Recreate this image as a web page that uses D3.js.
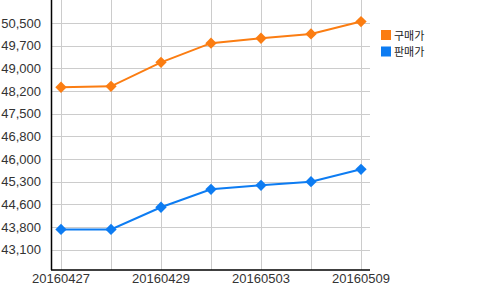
<!DOCTYPE html>
<html>
<head>
<meta charset="utf-8">
<script src="https://cdn.jsdelivr.net/npm/d3@7"></script>
<style>
  body { margin: 0; background: #fff; }
  text { font-family: "Liberation Sans", Arial, sans-serif; }
</style>
</head>
<body>
<div id="graph"></div>
<script>
var dates = ["20160427", "20160428", "20160429", "20160502", "20160503", "20160504", "20160509"];
var buyPrice  = [48420, 48450, 49230, 49850, 50010, 50150, 50550];
var sellPrice = [43810, 43810, 44530, 45110, 45240, 45360, 45760];
var seriesNames = ["구매가", "판매가"];
var xTickLabels = ["20160427", "20160429", "20160503", "20160509"];
var yTickValues = [43150, 43885, 44620, 45355, 46090, 46825, 47560, 48295, 49030, 49765, 50500];
var yTickLabels = ["43,100", "43,800", "44,600", "45,300", "46,000", "46,800", "47,500", "48,200", "49,000", "49,700", "50,500"];

var colors = ["#fb7d12", "#0d7cf2"];
var margin = {top: 0, right: 130, bottom: 20, left: 51};
var width = 500 - margin.left - margin.right,
    height = 290 - margin.top - margin.bottom;

var svg = d3.select("#graph").append("svg")
    .attr("width", 500).attr("height", 290)
  .append("g")
    .attr("transform", "translate(" + margin.left + "," + margin.top + ")");

var x = d3.scalePoint().domain(dates).range([10, width - 9]);
var y = d3.scaleLinear().domain([42495, 51250]).range([height, 0]);

// grid
svg.append("g").selectAll("line.h")
    .data(yTickValues)
    .enter().append("line")
    .attr("x1", 0).attr("x2", width)
    .attr("y1", function(d){ return Math.round(y(d)) + 0.5; })
    .attr("y2", function(d){ return Math.round(y(d)) + 0.5; })
    .attr("stroke", "#cccccc").attr("stroke-width", 1);
svg.append("g").selectAll("line.v")
    .data(dates)
    .enter().append("line")
    .attr("y1", 0).attr("y2", height)
    .attr("x1", function(d){ return Math.round(x(d)) + 0.5; })
    .attr("x2", function(d){ return Math.round(x(d)) + 0.5; })
    .attr("stroke", "#cccccc").attr("stroke-width", 1);

// axes
svg.append("line").attr("x1", 0.5).attr("x2", 0.5).attr("y1", 0).attr("y2", height)
    .attr("stroke", "#000").attr("stroke-width", 1.5);
svg.append("line").attr("x1", 0).attr("x2", width).attr("y1", height).attr("y2", height)
    .attr("stroke", "#000").attr("stroke-width", 1.5);

svg.append("g").selectAll("text")
    .data(yTickValues)
    .enter().append("text")
    .attr("x", -10)
    .attr("y", function(d){ return y(d) + 4.5; })
    .attr("text-anchor", "end")
    .attr("font-size", 13).attr("fill", "#333")
    .text(function(d, i){ return yTickLabels[i]; });

svg.append("g").selectAll("text")
    .data(xTickLabels)
    .enter().append("text")
    .attr("x", function(d){ return x(d); })
    .attr("y", height + 13)
    .attr("text-anchor", "middle")
    .attr("font-size", 13).attr("fill", "#333")
    .text(function(d){ return d; });

// series
var line = d3.line()
    .x(function(d, i){ return x(dates[i]); })
    .y(function(d){ return y(d); });

[buyPrice, sellPrice].forEach(function(vals, k) {
  svg.append("path").datum(vals)
      .attr("d", line)
      .attr("fill", "none")
      .attr("stroke", colors[k]).attr("stroke-width", 2);
  svg.append("g").selectAll("path")
      .data(vals)
      .enter().append("path")
      .attr("d", d3.symbol().type(d3.symbolSquare).size(64))
      .attr("transform", function(d, i){ return "translate(" + x(dates[i]) + "," + y(d) + ") rotate(45)"; })
      .attr("fill", colors[k]);
});

// legend
var legend = svg.append("g").attr("transform", "translate(" + (width + 11) + ",30)");
seriesNames.forEach(function(name, k) {
  legend.append("rect")
      .attr("x", 0).attr("y", k * 16.5)
      .attr("width", 10).attr("height", 10)
      .attr("fill", colors[k]);
  legend.append("text")
      .attr("x", 13).attr("y", k * 16.5 + 9.5)
      .attr("font-size", 11).attr("fill", "#222")
      .style("font-family", "'Noto Sans CJK KR', sans-serif")
      .text(name);
});
</script>
</body>
</html>
